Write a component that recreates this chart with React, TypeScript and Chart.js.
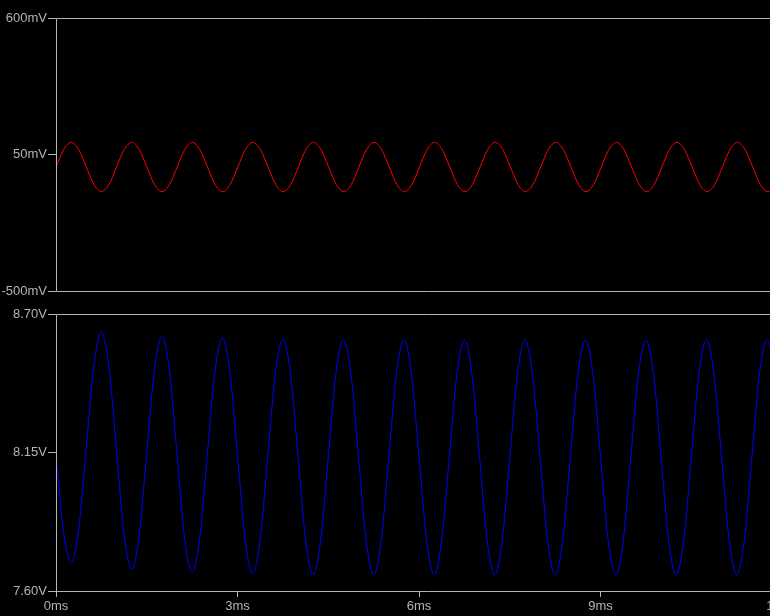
import React, { useEffect, useRef } from "react";
import { Chart, registerables } from "chart.js";

Chart.register(...registerables);

// Time axis (ms), sampled every 1/8 ms
const timeMs = [
  0, 0.125, 0.25, 0.375, 0.5, 0.625, 0.75, 0.875,
  1, 1.125, 1.25, 1.375, 1.5, 1.625, 1.75, 1.875,
  2, 2.125, 2.25, 2.375, 2.5, 2.625, 2.75, 2.875,
  3, 3.125, 3.25, 3.375, 3.5, 3.625, 3.75, 3.875,
  4, 4.125, 4.25, 4.375, 4.5, 4.625, 4.75, 4.875,
  5, 5.125, 5.25, 5.375, 5.5, 5.625, 5.75, 5.875,
  6, 6.125, 6.25, 6.375, 6.5, 6.625, 6.75, 6.875,
  7, 7.125, 7.25, 7.375, 7.5, 7.625, 7.75, 7.875,
  8, 8.125, 8.25, 8.375, 8.5, 8.625, 8.75, 8.875,
  9, 9.125, 9.25, 9.375, 9.5, 9.625, 9.75, 9.875,
  10, 10.125, 10.25, 10.375, 10.5, 10.625, 10.75, 10.875,
  11, 11.125, 11.25, 11.375, 11.5, 11.625, 11.75, 11.875,
  12,
];

// Input signal (mV), red trace
const inputMv = [
  0, 70, 99, 70, 0, -70, -99, -70,
  0, 70, 99, 70, 0, -70, -99, -70,
  0, 70, 99, 70, 0, -70, -99, -70,
  0, 70, 99, 70, 0, -70, -99, -70,
  0, 70, 99, 70, 0, -70, -99, -70,
  0, 70, 99, 70, 0, -70, -99, -70,
  0, 70, 99, 70, 0, -70, -99, -70,
  0, 70, 99, 70, 0, -70, -99, -70,
  0, 70, 99, 70, 0, -70, -99, -70,
  0, 70, 99, 70, 0, -70, -99, -70,
  0, 70, 99, 70, 0, -70, -99, -70,
  0, 70, 99, 70, 0, -70, -99, -70,
  0,
];

// Output signal (V), blue trace
const outputV = [
  8.132, 7.835, 7.712, 7.847, 8.170, 8.493, 8.627, 8.489,
  8.157, 7.825, 7.687, 7.823, 8.149, 8.475, 8.610, 8.474,
  8.143, 7.812, 7.675, 7.812, 8.140, 8.468, 8.604, 8.467,
  8.137, 7.807, 7.670, 7.806, 8.135, 8.464, 8.600, 8.463,
  8.133, 7.803, 7.666, 7.803, 8.132, 8.461, 8.598, 8.461,
  8.131, 7.802, 7.665, 7.802, 8.131, 8.460, 8.596, 8.460,
  8.131, 7.802, 7.665, 7.802, 8.131, 8.460, 8.596, 8.460,
  8.131, 7.802, 7.665, 7.802, 8.131, 8.460, 8.596, 8.460,
  8.131, 7.802, 7.665, 7.802, 8.131, 8.460, 8.596, 8.460,
  8.131, 7.802, 7.665, 7.802, 8.131, 8.460, 8.596, 8.460,
  8.131, 7.802, 7.665, 7.802, 8.131, 8.460, 8.596, 8.460,
  8.131, 7.802, 7.665, 7.802, 8.131, 8.460, 8.596, 8.460,
  8.131,
];

const topTicks = [-500, 50, 600];
const bottomTicks = [7.6, 8.15, 8.7];
const xTicks = [0, 3, 6, 9, 12];

const GRAY = "#b4b4b4";
const FONT = { family: "'Liberation Sans', Arial, sans-serif", size: 13 };

const frame = {
  id: "frame",
  afterDatasetsDraw(chart: any) {
    const { ctx, chartArea } = chart;
    ctx.save();
    ctx.strokeStyle = GRAY;
    ctx.lineWidth = 1;
    ctx.beginPath();
    const l = Math.round(chartArea.left) + 0.5;
    const t = Math.round(chartArea.top) + 0.5;
    const b = Math.round(chartArea.bottom) + 0.5;
    const r = chartArea.right + 20;
    ctx.moveTo(r, t);
    ctx.lineTo(l, t);
    ctx.lineTo(l, b);
    ctx.lineTo(r, b);
    ctx.stroke();
    ctx.restore();
  },
};

function makeYScale(min: number, max: number, ticks: number[], fmt: (v: number) => string) {
  return {
    type: "linear",
    min,
    max,
    afterFit: (s: any) => {
      s.width = 56;
    },
    afterBuildTicks: (s: any) => {
      s.ticks = ticks.map((v) => ({ value: v }));
    },
    grid: { drawOnChartArea: false, drawTicks: true, tickLength: 8, color: GRAY, lineWidth: 1 },
    border: { display: false },
    ticks: {
      color: GRAY,
      font: FONT,
      padding: 1,
      callback: (v: any) => fmt(Number(v)),
    },
  };
}

export default function App() {
  const topRef = useRef<HTMLCanvasElement>(null);
  const botRef = useRef<HTMLCanvasElement>(null);

  useEffect(() => {
    document.body.style.overflow = "hidden";
    document.documentElement.style.overflow = "hidden";
    document.body.style.background = "#000";

    const top = new Chart(topRef.current!, {
      type: "line",
      data: {
        labels: timeMs,
        datasets: [
          {
            data: timeMs.map((t, i) => ({ x: t, y: inputMv[i] })),
            borderColor: "#ff0000",
            borderWidth: 1,
            pointRadius: 0,
            cubicInterpolationMode: "monotone",
          },
        ],
      },
      options: {
        animation: false,
        responsive: false,
        events: [],
        layout: { padding: { top: 18, bottom: 8, left: 0, right: 17 } },
        plugins: { legend: { display: false }, tooltip: { enabled: false } },
        scales: {
          x: { type: "linear", min: 0, max: 12, display: false },
          y: makeYScale(-500, 600, topTicks, (v) => `${Math.round(v)}mV`) as any,
        },
      },
      plugins: [frame],
    });

    const bot = new Chart(botRef.current!, {
      type: "line",
      data: {
        labels: timeMs,
        datasets: [
          {
            data: timeMs.map((t, i) => ({ x: t, y: outputV[i] })),
            borderColor: "#0000ff",
            borderWidth: 1,
            pointRadius: 0,
            cubicInterpolationMode: "monotone",
          },
        ],
      },
      options: {
        animation: false,
        responsive: false,
        events: [],
        layout: { padding: { top: 14, bottom: 0, left: 0, right: 17 } },
        plugins: { legend: { display: false }, tooltip: { enabled: false } },
        scales: {
          x: {
            type: "linear",
            min: 0,
            max: 12,
            afterFit: (s: any) => {
              s.height = 25;
            },
            afterBuildTicks: (s: any) => {
              s.ticks = xTicks.map((v) => ({ value: v }));
            },
            grid: { drawOnChartArea: false, drawTicks: true, tickLength: 6, color: GRAY, lineWidth: 1 },
            border: { display: false },
            ticks: {
              color: GRAY,
              font: FONT,
              padding: 2,
              maxRotation: 0,
              autoSkip: false,
              callback: (v: any) => `${v}ms`,
            },
          },
          y: makeYScale(7.6, 8.7, bottomTicks, (v) => `${v.toFixed(2)}V`) as any,
        },
      },
      plugins: [frame],
    });

    return () => {
      top.destroy();
      bot.destroy();
    };
  }, []);

  return (
    <div
      style={{
        position: "fixed",
        left: 0,
        top: 0,
        width: 800,
        height: 616,
        background: "#000",
        overflow: "hidden",
      }}
    >
      <canvas ref={topRef} width={800} height={300} style={{ position: "absolute", left: 0, top: 0, width: 800, height: 300 }} />
      <canvas ref={botRef} width={800} height={316} style={{ position: "absolute", left: 0, top: 300, width: 800, height: 316 }} />
    </div>
  );
}
